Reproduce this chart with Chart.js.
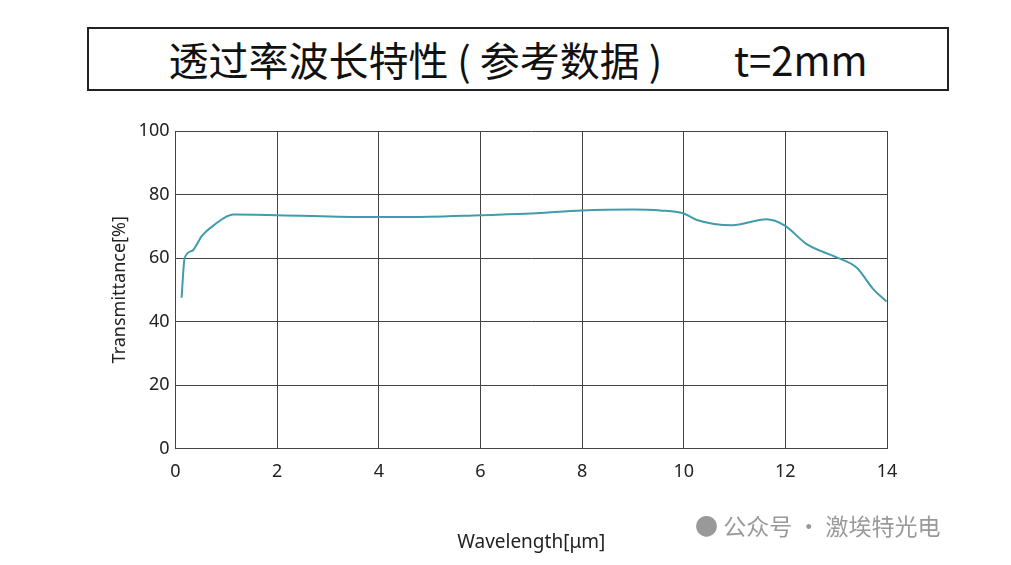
<!DOCTYPE html>
<html>
<head>
<meta charset="utf-8">
<script src="https://cdn.jsdelivr.net/npm/chart.js@4/dist/chart.umd.min.js"></script>
<style>
  body { margin: 0; background: #fff; width: 1011px; height: 565px; overflow: hidden; position: relative; font-family: "Noto Sans CJK SC", "Noto Sans", sans-serif; }
  .title { position: absolute; left: 87px; top: 27px; width: 858px; height: 60px; border: 2px solid #222; box-sizing: content-box; text-align: center; font-size: 40px; line-height: 60px; color: #111; }
  .wrap { position: absolute; left: 0; top: 100px; width: 1011px; height: 465px; }
  .wm { position: absolute; left: 695px; top: 508px; font-size: 23px; color: #999; }
</style>
</head>
<body>
<div class="title">透过率波长特性 ( 参考数据 )&nbsp;&nbsp;&nbsp;&nbsp;&nbsp;&nbsp;&nbsp;&nbsp;t=2mm</div>
<div class="wrap"><canvas id="chart"></canvas></div>
<div class="wm">● 公众号 · 激埃特光电</div>
<script>
const wavelengths = [0.12, 0.18, 0.33, 0.52, 0.75, 1.14, 2, 3.83, 5, 6, 7, 8, 9, 9.54, 9.99, 10.26, 10.95, 11.63, 11.99, 12.42, 13.01, 13.4, 13.73, 13.99]
const transmittance = [47.5, 60, 62.3, 67, 70.3, 73.7, 73.5, 72.9, 73, 73.5, 74, 75, 75.3, 75, 74.1, 72, 70.3, 72.2, 70.2, 64.4, 60.2, 57, 50.2, 46.3]
const yTicks = [0, 20, 40, 60, 80, 100]

const ctx = document.getElementById('chart').getContext('2d')
const gridColor = '#444'
new Chart(ctx, {
  type: 'line',
  data: {
    datasets: [{
      data: wavelengths.map((x, i) => ({ x, y: transmittance[i] })),
      borderColor: '#3f9cab',
      borderWidth: 2,
      pointRadius: 0,
      tension: 0.4,
      cubicInterpolationMode: 'monotone',
      fill: false,
    }],
  },
  options: {
    responsive: true,
    maintainAspectRatio: false,
    animation: false,
    layout: { padding: { left: 105, right: 124, top: 31, bottom: 7 } },
    plugins: { legend: { display: false }, tooltip: { enabled: false } },
    scales: {
      x: {
        type: 'linear', min: 0, max: 14,
        ticks: { stepSize: 2, color: '#222', font: { family: 'Noto Sans', size: 18 }, padding: 12 },
        grid: { color: gridColor, lineWidth: 1, drawTicks: false },
        border: { color: gridColor },
        title: { display: true, text: 'Wavelength[μm]', color: '#222', font: { family: 'Noto Sans', size: 19 }, padding: { top: 37 } },
      },
      y: {
        min: 0, max: 100,
        afterBuildTicks: (axis) => { axis.ticks = yTicks.map((v) => ({ value: v })) },
        ticks: { color: '#222', font: { family: 'Noto Sans', size: 18 }, padding: 6 },
        grid: { color: gridColor, lineWidth: 1, drawTicks: false },
        border: { color: gridColor },
        title: { display: true, text: 'Transmittance[%]', color: '#222', font: { family: 'Noto Sans', size: 18 }, padding: { bottom: 2 } },
      },
    },
  },
})
</script>
</body>
</html>
